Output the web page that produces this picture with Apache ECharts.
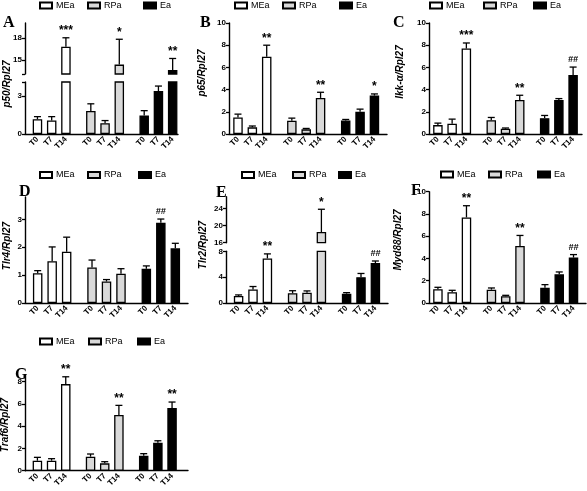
<!DOCTYPE html>
<html><head><meta charset="utf-8">
<script src="https://cdn.jsdelivr.net/npm/echarts@6/dist/echarts.min.js"></script>
<style>html,body{margin:0;padding:0;background:#fff}#c{width:587px;height:491px}</style>
</head><body><div id="c"></div>
<script>
// ---------- data (order: MEa T0,T7,T14, RPa T0,T7,T14, Ea T0,T7,T14) ----------
const groups = ['MEa', 'RPa', 'Ea'];
const times = ['T0', 'T7', 'T14'];

const p50Mean = [1.16, 1.06, 16.8, 1.81, 0.85, 14.37, 1.45, 3.39, 13.65];
const p50Sem  = [0.21, 0.31, 1.2, 0.57, 0.21, 3.43, 0.39, 0.39, 1.55];
const p50Sig  = ['', '', '***', '', '', '*', '', '', '**'];

const p65Mean = [1.49, 0.6, 6.96, 1.19, 0.42, 3.25, 1.22, 2.0, 3.46];
const p65Sem  = [0.3, 0.12, 1.04, 0.24, 0.08, 0.51, 0.09, 0.24, 0.15];
const p65Sig  = ['', '', '**', '', '', '**', '', '', '*'];

const ikkMean = [0.8, 0.93, 7.7, 1.25, 0.48, 3.07, 1.43, 3.07, 5.31];
const ikkSem  = [0.18, 0.41, 0.5, 0.24, 0.06, 0.42, 0.24, 0.12, 0.72];
const ikkSig  = ['', '', '***', '', '', '**', '', '', '##'];

const tlr4Mean = [1.07, 1.5, 1.84, 1.27, 0.77, 1.05, 1.23, 2.88, 1.96];
const tlr4Sem  = [0.09, 0.51, 0.52, 0.27, 0.07, 0.18, 0.1, 0.13, 0.18];
const tlr4Sig  = ['', '', '', '', '', '', '', '##', ''];

const tlr2Mean = [1.09, 2.08, 6.9, 1.5, 1.6, 18.5, 1.45, 4.0, 6.18];
const tlr2Sem  = [0.16, 0.47, 0.7, 0.4, 0.27, 5.35, 0.15, 0.57, 0.32];
const tlr2Sig  = ['', '', '**', '', '', '*', '', '', '##'];

const myd88Mean = [1.23, 0.96, 7.69, 1.2, 0.6, 5.13, 1.38, 2.58, 4.08];
const myd88Sem  = [0.18, 0.18, 1.05, 0.15, 0.09, 0.94, 0.27, 0.21, 0.27];
const myd88Sig  = ['', '', '**', '', '', '**', '', '', '##'];

const traf6Mean = [0.9, 0.9, 7.78, 1.26, 0.66, 5.0, 1.35, 2.51, 5.63];
const traf6Sem  = [0.3, 0.18, 0.66, 0.24, 0.15, 0.87, 0.18, 0.18, 0.54];
const traf6Sig  = ['', '', '**', '', '', '**', '', '', '**'];

const tenTicks = [0, 2, 4, 6, 8, 10];

// ---------- layout ----------
const FONT = '"Liberation Sans", Arial, sans-serif';
const fills = { MEa: '#ffffff', RPa: '#d9d9d9', Ea: '#000000' };

const panels = [
  { title: 'A', tx: 3, ty: 15, yName: 'p50/Rpl27', nx: 7, ny: 84, mean: p50Mean, sem: p50Sem, sig: p50Sig,
    left: 25, right: 178, offset: 3, slots: 43, lx: [39, 87, 143], ly: 7,
    segs: [ { top: 82, bottom: 134, min: 0, max: 4.1, ticks: [0, 3, 4.1], labels: [0, 3] },
            { top: 23, bottom: 74, min: 13.1, max: 20, ticks: [13.1, 15, 18], labels: [15, 18] } ] },
  { title: 'B', tx: 200, ty: 15, yName: 'p65/Rpl27', nx: 202, ny: 73, mean: p65Mean, sem: p65Sem, sig: p65Sig,
    left: 229, right: 387, offset: 2, slots: 44, lx: [234, 282, 339], ly: 7,
    segs: [ { top: 23, bottom: 134, min: 0, max: 10, ticks: tenTicks, labels: tenTicks } ] },
  { title: 'C', tx: 393, ty: 15, yName: 'Ikk-\u03b1/Rpl27', nx: 400, ny: 72, mean: ikkMean, sem: ikkSem, sig: ikkSig,
    left: 429, right: 582, offset: 2, slots: 43, lx: [429, 483, 533], ly: 7,
    segs: [ { top: 23, bottom: 134, min: 0, max: 10, ticks: tenTicks, labels: tenTicks } ] },
  { title: 'D', tx: 19, ty: 184, yName: 'Tlr4/Rpl27', nx: 7, ny: 246, mean: tlr4Mean, sem: tlr4Sem, sig: tlr4Sig,
    left: 25, right: 188, offset: 3, slots: 45, lx: [39, 87, 138], ly: 176.5,
    segs: [ { top: 197, bottom: 303, min: 0, max: 3.8, ticks: [0, 1, 2, 3], labels: [0, 1, 2, 3] } ] },
  { title: 'E', tx: 216, ty: 185, yName: 'Tlr2/Rpl27', nx: 203, ny: 245, mean: tlr2Mean, sem: tlr2Sem, sig: tlr2Sig,
    left: 226, right: 388, offset: 3, slots: 45, lx: [241, 292, 338], ly: 176.5,
    segs: [ { top: 251.3, bottom: 303, min: 0, max: 8, ticks: [0, 4, 8], labels: [0, 4, 8] },
            { top: 196.7, bottom: 242.7, min: 16, max: 26.8, ticks: [16, 20, 24], labels: [16, 20, 24] } ] },
  { title: 'F', tx: 411, ty: 183, yName: 'Myd88/Rpl27', nx: 398, ny: 240, mean: myd88Mean, sem: myd88Sem, sig: myd88Sig,
    left: 429, right: 586, offset: 2, slots: 44, lx: [440, 488, 537], ly: 176,
    segs: [ { top: 191.7, bottom: 303, min: 0, max: 10, ticks: tenTicks, labels: tenTicks } ] },
  { title: 'G', tx: 15, ty: 367, yName: 'Traf6/Rpl27', nx: 5, ny: 425, mean: traf6Mean, sem: traf6Sem, sig: traf6Sig,
    left: 25, right: 188, offset: 3, slots: 46, lx: [39, 88, 137], ly: 343,
    segs: [ { top: 375, bottom: 470.7, min: 0, max: 8.6, ticks: [0, 2, 4, 6, 8], labels: [0, 2, 4, 6, 8] } ] }
];

const option = { animation: false, backgroundColor: '#fff', grid: [], xAxis: [], yAxis: [], series: [], legend: [], graphic: [] };

panels.forEach(p => {
  const slotOf = (g, t) => p.offset + 15 * g + 4 * t;
  const cats = new Array(p.slots).fill('');
  groups.forEach((g, gi) => times.forEach((t, ti) => { cats[slotOf(gi, ti)] = t; }));

  p.segs.forEach((s, si) => {
    const idx = option.grid.length;
    const showX = si === 0;
    option.grid.push({ left: p.left, top: s.top, width: p.right - p.left, height: s.bottom - s.top });
    option.xAxis.push({
      type: 'category', gridIndex: idx, data: cats, boundaryGap: true,
      axisLine: { show: showX, lineStyle: { color: '#000', width: 1.4 } },
      axisTick: { show: false },
      axisLabel: { show: showX, interval: 0, rotate: 45, fontSize: 8, fontWeight: 'bold', color: '#000', fontFamily: FONT, margin: 4 }
    });
    option.yAxis.push({
      type: 'value', gridIndex: idx, min: s.min, max: s.max, splitLine: { show: false },
      axisLine: { show: true, lineStyle: { color: '#000', width: 1.4 } },
      axisTick: { show: true, length: 3, customValues: s.ticks, lineStyle: { color: '#000', width: 1.3 } },
      axisLabel: { customValues: s.labels, fontSize: 8, fontWeight: 'bold', color: '#000', fontFamily: FONT, margin: 3 }
    });
    groups.forEach((g, gi) => {
      const data = new Array(p.slots).fill('-');
      times.forEach((t, ti) => { data[slotOf(gi, ti)] = p.mean[gi * 3 + ti]; });
      option.series.push({
        type: 'bar', name: g, xAxisIndex: idx, yAxisIndex: idx, data: data,
        barWidth: 9.5, barGap: '-100%', clip: true, z: 2, silent: true,
        itemStyle: { color: fills[g], borderColor: '#000', borderWidth: 1.3 }
      });
    });
    const ed = [];
    groups.forEach((g, gi) => times.forEach((t, ti) => {
      const k = gi * 3 + ti;
      ed.push([slotOf(gi, ti), p.mean[k], p.mean[k] + p.sem[k]]);
    }));
    option.series.push({
      type: 'custom', xAxisIndex: idx, yAxisIndex: idx, data: ed, z: 5, silent: true,
      encode: { x: 0, y: [1, 2] },
      renderItem: (params, api) => {
        const x = api.value(0), m = api.value(1), top = api.value(2);
        if (m < s.min || m > s.max) return null;
        const k = params.dataIndex;
        const p0 = api.coord([x, m]);
        const p1 = api.coord([x, top]);
        const children = [
          { type: 'line', shape: { x1: p0[0], y1: p0[1], x2: p1[0], y2: p1[1] }, style: { stroke: '#000', lineWidth: 1.3 } },
          { type: 'line', shape: { x1: p1[0] - 3.5, y1: p1[1], x2: p1[0] + 3.5, y2: p1[1] }, style: { stroke: '#000', lineWidth: 1.3 } }
        ];
        const sg = p.sig[k];
        if (sg) {
          const isHash = sg.indexOf('#') >= 0;
          children.push({ type: 'text', x: p1[0], y: p1[1] - (isHash ? 3 : 1),
            style: { text: sg, fill: '#000', font: (isHash ? 'bold italic 9px ' : 'bold 12px ') + FONT, align: 'center', verticalAlign: 'bottom' } });
        }
        return { type: 'group', children: children };
      }
    });
  });

  p.lx.forEach((x, i) => {
    option.legend.push({
      data: [groups[i]], left: x, top: p.ly - 6, padding: 0, itemWidth: 12, itemHeight: 6, itemGap: 0,
      selectedMode: false, icon: 'rect',
      textStyle: { fontSize: 9, color: '#000', fontFamily: FONT, padding: [0, 0, 0, -1] }
    });
  });

  option.graphic.push({ type: 'text', x: p.tx, y: p.ty, silent: true,
    style: { text: p.title, fill: '#000', font: 'bold 16px "Liberation Serif", "Times New Roman", serif', verticalAlign: 'alphabetic' } });
  option.graphic.push({ type: 'text', x: p.nx, y: p.ny, rotation: Math.PI / 2, silent: true,
    style: { text: p.yName, fill: '#000', font: 'italic bold 10px ' + FONT, align: 'center', verticalAlign: 'middle' } });
});

const chart = echarts.init(document.getElementById('c'), null, { renderer: 'canvas' });
chart.setOption(option);
</script>
</body></html>
